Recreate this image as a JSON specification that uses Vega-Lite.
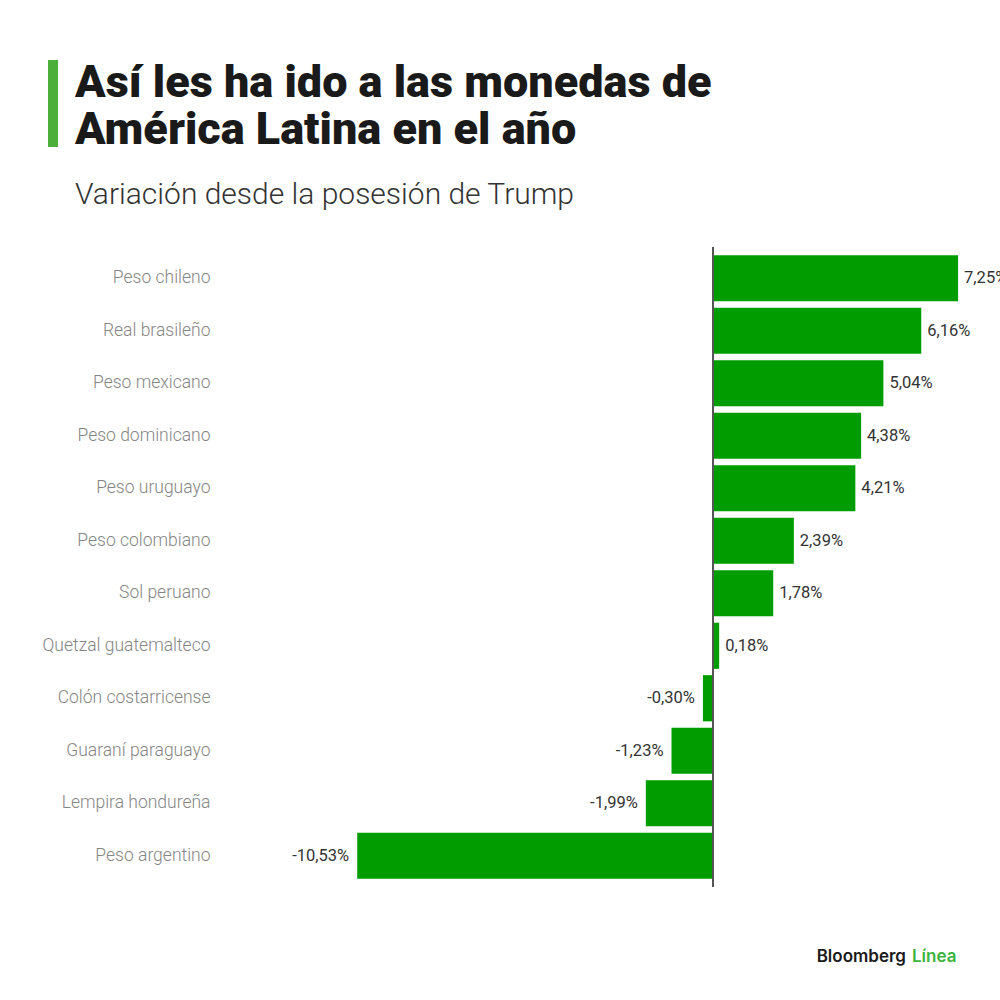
{
  "$schema": "https://vega.github.io/schema/vega-lite/v6.json",
  "autosize": {"type": "none"},
  "width": 780,
  "height": 640,
  "padding": {"left": 220, "top": 247, "right": 0, "bottom": 113},
  "background": "white",
  "view": {"stroke": null},
  "title": {
    "text": ["Así les ha ido a las monedas de", "América Latina en el año"],
    "subtitle": "Variación desde la posesión de Trump",
    "anchor": "start",
    "frame": "group",
    "dx": -145,
    "offset": -150,
    "font": "Roboto",
    "fontSize": 45,
    "fontWeight": 900,
    "color": "#1a1a1a",
    "lineHeight": 47,
    "subtitleFont": "Roboto",
    "subtitleFontSize": 30,
    "subtitleFontWeight": 300,
    "subtitleColor": "#333333",
    "subtitlePadding": 27
  },
  "data": {
    "values": [
      {"moneda": "Peso chileno", "variacion": 7.25, "label": "7,25%"},
      {"moneda": "Real brasileño", "variacion": 6.16, "label": "6,16%"},
      {"moneda": "Peso mexicano", "variacion": 5.04, "label": "5,04%"},
      {"moneda": "Peso dominicano", "variacion": 4.38, "label": "4,38%"},
      {"moneda": "Peso uruguayo", "variacion": 4.21, "label": "4,21%"},
      {"moneda": "Peso colombiano", "variacion": 2.39, "label": "2,39%"},
      {"moneda": "Sol peruano", "variacion": 1.78, "label": "1,78%"},
      {"moneda": "Quetzal guatemalteco", "variacion": 0.18, "label": "0,18%"},
      {"moneda": "Colón costarricense", "variacion": -0.30, "label": "-0,30%"},
      {"moneda": "Guaraní paraguayo", "variacion": -1.23, "label": "-1,23%"},
      {"moneda": "Lempira hondureña", "variacion": -1.99, "label": "-1,99%"},
      {"moneda": "Peso argentino", "variacion": -10.53, "label": "-10,53%"}
    ]
  },
  "encoding": {
    "y": {
      "field": "moneda",
      "type": "nominal",
      "sort": null,
      "scale": {"paddingInner": 0.12, "paddingOuter": 0.155},
      "axis": {
        "title": null,
        "domain": false,
        "ticks": false,
        "labelPadding": 10,
        "labelFont": "Roboto",
        "labelFontSize": 17.5,
        "labelFontWeight": 300,
        "labelColor": "#858585",
        "labelLimit": 220
      }
    },
    "x": {
      "field": "variacion",
      "type": "quantitative",
      "scale": {"domain": [-14.59, 8.49], "nice": false, "zero": false},
      "axis": null
    }
  },
  "layer": [
    {
      "mark": {"type": "bar", "color": "#009c00"}
    },
    {
      "transform": [{"filter": "datum.variacion >= 0"}],
      "mark": {"type": "text", "align": "left", "baseline": "middle", "dx": 6, "font": "Roboto", "fontSize": 16.5, "color": "#333333"},
      "encoding": {"text": {"field": "label"}}
    },
    {
      "transform": [{"filter": "datum.variacion < 0"}],
      "mark": {"type": "text", "align": "right", "baseline": "middle", "dx": -8, "font": "Roboto", "fontSize": 16.5, "color": "#333333"},
      "encoding": {"text": {"field": "label"}}
    },
    {
      "mark": {"type": "rule", "color": "#555555", "strokeWidth": 1},
      "encoding": {"x": {"datum": 0}, "y": null}
    },
    {
      "data": {"values": [{"marca": "Bloomberg"}]},
      "mark": {"type": "text", "align": "right", "baseline": "alphabetic", "font": "Inter", "fontSize": 17, "fontWeight": 600, "color": "#1a1a1a"},
      "encoding": {"x": {"value": 686}, "y": {"value": 715}, "text": {"field": "marca"}}
    },
    {
      "data": {"values": [{"marca": "Línea"}]},
      "mark": {"type": "text", "align": "left", "baseline": "alphabetic", "font": "Inter", "fontSize": 17, "fontWeight": 600, "color": "#3cb43c"},
      "encoding": {"x": {"value": 692}, "y": {"value": 715}, "text": {"field": "marca"}}
    },
    {
      "data": {"values": [{"marca": "barra"}]},
      "mark": {"type": "rect", "color": "#4caf3a"},
      "encoding": {"x": {"value": -172}, "x2": {"value": -162}, "y": {"value": -187}, "y2": {"value": -100}}
    }
  ]
}
